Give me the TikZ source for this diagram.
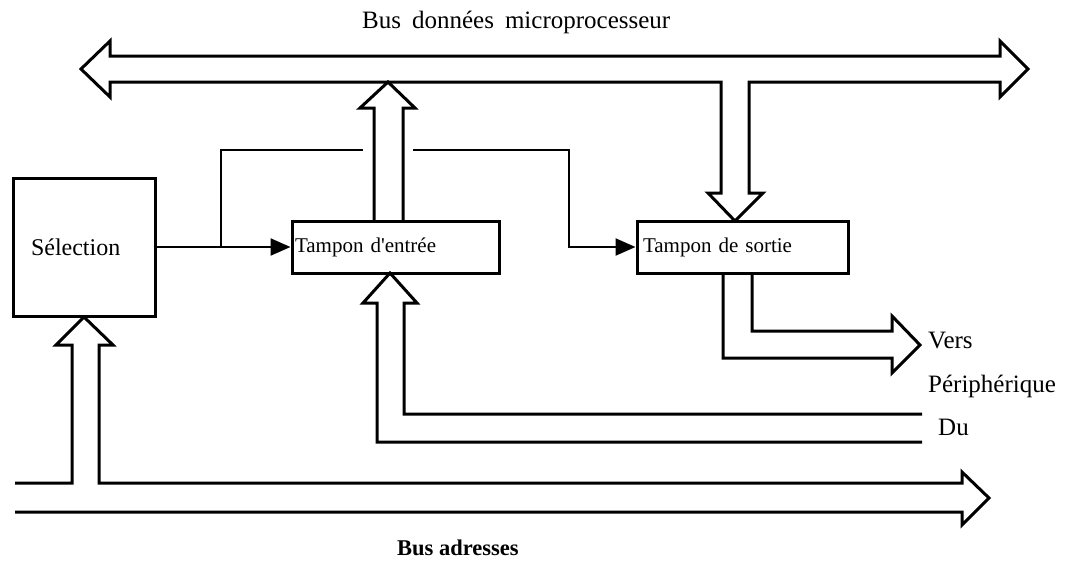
\documentclass[tikz,border=0pt]{standalone}
\usepackage{fontspec}
\setmainfont{Liberation Serif}[Ligatures=TeXOff]
\usetikzlibrary{arrows.meta}
\begin{document}
\begin{tikzpicture}[x=1pt,y=-1pt,
  bus/.style={line width=3pt, line join=miter, miter limit=10},
  box/.style={draw, line width=3pt, rectangle, inner ysep=0pt,
              minimum height=52pt, align=left},
  ctrl/.style={line width=2.3pt, -{Triangle[length=20pt,width=17pt]}},
  wire/.style={line width=2.3pt},
  lbl/.style={inner sep=0pt, anchor=base west, font=\fontsize{25}{29}\selectfont}
]
\useasboundingbox (0,0) rectangle (1073,560);

% blocks
\node[box, minimum width=142pt, minimum height=138pt, text width=106pt,
      inner xsep=18pt, font=\fontsize{24}{28}\selectfont] (sel) at (84,247) {Sélection};
\node[box, minimum width=207pt, text width=201pt, inner xsep=3pt,
      font=\fontsize{21}{25}\selectfont] (tin) at (395.5,247) {Tampon d'entrée};
\node[box, minimum width=211pt, text width=199pt, inner xsep=6pt,
      font=\fontsize{21}{25}\selectfont] (tout) at (742.5,247) {Tampon de sortie};

% selection lines
\coordinate (j1) at (221,247);
\coordinate (j2) at (221,150);
\coordinate (gl) at (363,150);
\coordinate (gr) at (413,150);
\coordinate (k1) at (569,150);
\draw[ctrl] (sel.east) -- (tin.west);
\draw[wire] (j1) -- (j2) -- (gl);
\draw[ctrl] (gr) -- (k1) |- (tout.west);

% microprocessor data bus with the branch down to the output buffer
\draw[bus] (81,69) -- (110,41) -- (110,56) -- (1000,56) -- (1000,41) -- (1028,69)
  -- (1000,97) -- (1000,82) -- (749,82) -- (749,193) -- (763,193) -- (735,221)
  -- (708,193) -- (721,193) -- (721,82) -- (110,82) -- (110,97) -- cycle;

% input buffer onto the data bus
\draw[bus] (374,221) -- (374,108) -- (360,108) -- (388,82) -- (415,108)
  -- (403,108) -- (403,221);

% address bus with the branch up to the selection block
\draw[bus] (15,483) -- (72,483) -- (72,345) -- (56,345) -- (84,317) -- (113,345)
  -- (99,345) -- (99,483) -- (962,483) -- (962,472) -- (989,498) -- (962,525)
  -- (962,512) -- (15,512);

% from the peripheral into the input buffer
\draw[bus] (922,442) -- (377,442) -- (377,303) -- (363,303) -- (390,273)
  -- (417,303) -- (404,303) -- (404,414) -- (922,414);

% output buffer towards the peripheral
\draw[bus] (723,273) -- (723,358) -- (892,358) -- (892,373) -- (920,345)
  -- (892,316) -- (892,331) -- (752,331) -- (752,273);

% labels
\node[lbl] (tdata) at (362,28) {Bus\hspace{11pt}données\hspace{11pt}microprocesseur};
\node[lbl, font=\fontsize{22.5}{26}\selectfont\bfseries] (taddr) at (397,555) {Bus adresses};
\node[lbl] (vers) at (928,348) {Vers};
\node[lbl] (peri) at (928,392) {Périphérique};
\node[lbl] (du) at (938,435) {Du};
\end{tikzpicture}
\end{document}
